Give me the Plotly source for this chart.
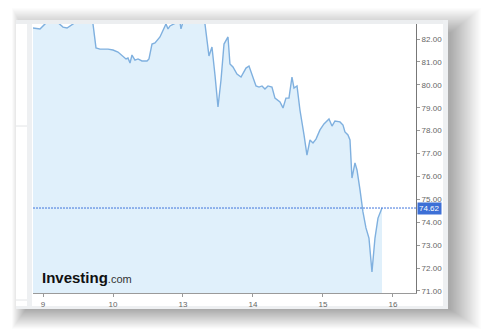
import plotly.graph_objects as go

# Day positions (trading-day index: 0=9, 1=10, 2=13, 3=14, 4=15, 5=16) and prices
day_pos = [-0.143, -0.043, 0.029, 0.07, 0.2, 0.286, 0.343, 0.429, 0.5, 0.671, 0.714, 0.757,
           0.814, 0.929, 1.0, 1.071, 1.129, 1.186, 1.214, 1.243, 1.271, 1.314, 1.357, 1.414,
           1.486, 1.514, 1.557, 1.6, 1.671, 1.729, 1.757, 1.786, 1.814, 1.871, 1.929, 1.957,
           1.971, 2.0, 2.171, 2.286, 2.314, 2.371, 2.414, 2.457, 2.5, 2.543, 2.586, 2.643,
           2.671, 2.714, 2.771, 2.829, 2.9, 2.943, 2.986, 3.043, 3.086, 3.129, 3.171, 3.214,
           3.271, 3.314, 3.386, 3.429, 3.471, 3.514, 3.557, 3.586, 3.629, 3.671, 3.729, 3.771,
           3.814, 3.857, 3.9, 3.957, 4.014, 4.086, 4.129, 4.171, 4.243, 4.286, 4.314, 4.357,
           4.386, 4.414, 4.457, 4.486, 4.529, 4.571, 4.614, 4.657, 4.7, 4.743, 4.786, 4.829,
           4.843]
price = [82.48, 82.44, 82.66, 82.75, 82.75, 82.52, 82.48, 82.66, 82.8, 82.8, 82.66, 81.61,
         81.56, 81.56, 81.52, 81.43, 81.26, 81.13, 81.17, 80.95, 81.30, 81.08, 81.13, 81.04,
         81.04, 81.13, 81.78, 81.83, 82.09, 82.48, 82.66, 82.44, 82.57, 82.66, 82.74, 82.74,
         82.44, 82.74, 82.8, 82.74, 82.66, 81.26, 81.65, 80.43, 79.03, 80.21, 81.78, 82.09,
         80.91, 80.78, 80.47, 80.34, 80.73, 80.82, 80.43, 79.95, 79.90, 79.95, 79.82, 79.95,
         79.90, 79.42, 79.25, 78.99, 79.42, 79.42, 80.34, 79.86, 79.95, 78.90, 77.81, 76.93,
         77.59, 77.46, 77.63, 78.03, 78.29, 78.51, 78.20, 78.42, 78.38, 78.24, 77.94, 77.81,
         77.59, 75.93, 76.59, 76.28, 75.41, 74.45, 73.75, 73.31, 71.83, 73.31, 74.18, 74.53,
         74.62]
tick_pos = [0, 1, 2, 3, 4, 5]
tick_text = ["9", "10", "13", "14", "15", "16"]
y_ticks = [71, 72, 73, 74, 75, 76, 77, 78, 79, 80, 81, 82]
last_price = 74.62

W, H = 483, 330
L, R, T, B = 33, 67, 24, 37
pw, ph = W - L - R, H - T - B


def px(x):
    return (x - L) / pw


def py(y):
    return (H - B - y) / ph


fig = go.Figure()
fig.add_trace(go.Scatter(
    x=day_pos, y=price, mode="lines",
    line=dict(color="#7fb0df", width=1.4),
    fill="tozeroy", fillcolor="#e0f0fb",
    hoverinfo="skip", showlegend=False,
))

shapes = []
# soft drop shadow (offset to the lower right)
n = 28
for s in range(n):
    shapes.append(dict(type="rect", xref="paper", yref="paper",
                       x0=px(12 + s * 0.5), x1=px(481 - s * 1.1),
                       y0=py(329 - s * 0.7), y1=py(8 + s * 0.9),
                       fillcolor="rgba(0,0,0,0.012)", line=dict(width=0), layer="below"))
# panel
shapes.append(dict(type="rect", xref="paper", yref="paper",
                   x0=px(16), x1=px(448), y0=py(309), y1=py(20),
                   fillcolor="#ffffff", line=dict(width=0), layer="below"))
# top border strip
shapes.append(dict(type="rect", xref="paper", yref="paper",
                   x0=px(16), x1=px(448), y0=py(24), y1=py(20),
                   fillcolor="#eceef0", line=dict(width=0), layer="below"))
# right border strip
shapes.append(dict(type="rect", xref="paper", yref="paper",
                   x0=px(443), x1=px(448), y0=py(309), y1=py(20),
                   fillcolor="#eef0f2", line=dict(width=0), layer="below"))
# bottom border strip
shapes.append(dict(type="rect", xref="paper", yref="paper",
                   x0=px(16), x1=px(448), y0=py(309), y1=py(306),
                   fillcolor="#eef0f2", line=dict(width=0), layer="below"))
# left strip
shapes.append(dict(type="rect", xref="paper", yref="paper",
                   x0=px(27), x1=px(32), y0=py(309), y1=py(24),
                   fillcolor="#eef0f2", line=dict(width=0), layer="below"))
# left sidebar separators
for yy in (126, 300):
    shapes.append(dict(type="line", xref="paper", yref="paper",
                       x0=px(16), x1=px(27), y0=py(yy), y1=py(yy),
                       line=dict(color="#e2e4e6", width=1), layer="below"))
# dotted last price line
shapes.append(dict(type="line", xref="paper", yref="y",
                   x0=0, x1=1, y0=last_price, y1=last_price,
                   line=dict(color="#3f74dc", width=1, dash="2px,1px")))

annotations = [
    dict(xref="paper", yref="y", x=1, y=last_price, xanchor="left", yanchor="middle",
         text="%.2f" % last_price, showarrow=False, bgcolor="#3d6fd6",
         font=dict(color="#ffffff", size=8, family="Arial, Liberation Sans"),
         borderpad=1, xshift=1),
    dict(xref="paper", yref="paper", x=px(40), y=py(277), xanchor="left", yanchor="middle",
         text="<b>Investing</b><span style='font-size:11px;color:#333'>.com</span>",
         showarrow=False,
         font=dict(color="#111111", size=15, family="Arial, Liberation Sans")),
]

fig.update_layout(
    width=W, height=H,
    margin=dict(l=L, r=R, t=T, b=B),
    paper_bgcolor="#ffffff", plot_bgcolor="rgba(0,0,0,0)",
    shapes=shapes, annotations=annotations,
    xaxis=dict(range=[-0.143, 5.329], tickvals=tick_pos, ticktext=tick_text,
               showgrid=False, zeroline=False, showline=True, linecolor="#9a9a9a",
               linewidth=1, ticks="outside", ticklen=3, tickcolor="#9a9a9a",
               tickfont=dict(size=8, color="#666666", family="Arial, Liberation Sans")),
    yaxis=dict(range=[70.91, 82.655], side="right", tickvals=y_ticks,
               tickformat=".2f", showgrid=False, zeroline=False, showline=True,
               linecolor="#777777", linewidth=1, ticks="outside", ticklen=3,
               tickcolor="#9a9a9a",
               tickfont=dict(size=8, color="#666666", family="Arial, Liberation Sans")),
    showlegend=False,
)

fig.write_html("out.html")
